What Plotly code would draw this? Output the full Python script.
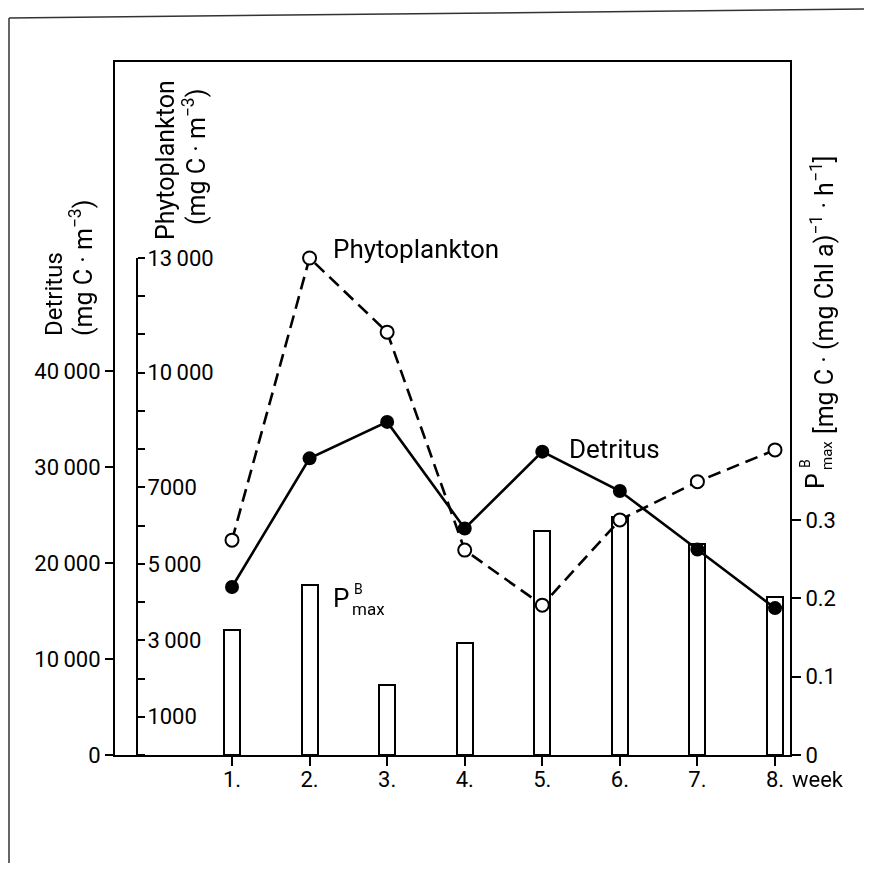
import plotly.graph_objects as go

weeks = [1, 2, 3, 4, 5, 6, 7, 8]
week_labels = ["1.", "2.", "3.", "4.", "5.", "6.", "7.", "8."]
detritus = [17500, 30900, 34700, 23600, 31600, 27500, 21400, 15300]
phyto = [5620, 13000, 11060, 5360, 3920, 6150, 7150, 7980]
pmax = [0.160, 0.217, 0.089, 0.143, 0.286, 0.304, 0.269, 0.202]

det_ticks = [0, 10000, 20000, 30000, 40000]
det_labels = ["0", "10\u2009000", "20\u2009000", "30\u2009000", "40\u2009000"]
phy_ticks = list(range(0, 13001, 1000))
phy_label_map = {1000: "1000", 3000: "3\u2009000", 5000: "5\u2009000",
                 7000: "7000", 10000: "10\u2009000", 13000: "13\u2009000"}
phy_labels = [phy_label_map.get(v, "") for v in phy_ticks]
p_ticks = [0, 0.1, 0.2, 0.3]
p_labels = ["0", "0.1", "0.2", "0.3"]

FONT = "Roboto, DejaVu Sans, sans-serif"
TICKFONT = dict(family=FONT, size=22, color="black")

# page offset (browser body margin)
OFF = 8
W, H = 872 - 2 * OFF, 871 - 2 * OFF
L, T = 115 - OFF, 62 - OFF
R = W - (790 - OFF)
B = H - (755 - OFF)
PW, PH = W - L - R, H - T - B


def px(xp):
    return (xp - OFF - L) / PW


def py(yp):
    return (H - B - (yp - OFF)) / PH


fig = go.Figure()

fig.add_trace(go.Bar(x=weeks, y=pmax, width=0.206,
                     marker=dict(color="white", line=dict(color="black", width=2)),
                     yaxis="y", showlegend=False, hoverinfo="skip"))
fig.add_trace(go.Scatter(x=weeks, y=phyto, mode="lines+markers", yaxis="y2",
                         line=dict(color="black", width=2.6, dash="13px,7px"),
                         marker=dict(symbol="circle", size=13, color="white",
                                     line=dict(color="black", width=2)),
                         cliponaxis=False, showlegend=False))
fig.add_trace(go.Scatter(x=weeks, y=detritus, mode="lines+markers", yaxis="y3",
                         line=dict(color="black", width=2.6),
                         marker=dict(symbol="circle", size=14, color="black"),
                         cliponaxis=False, showlegend=False))
fig.add_trace(go.Scatter(x=weeks, y=phyto, mode="markers", yaxis="y4", opacity=0,
                         showlegend=False, hoverinfo="skip"))

phy_top = 13000 * PH / (755 - 258)
det_top = 40000 * PH / (755 - 371)
p_top = 0.3 * PH / (755 - 520)
step = (775 - 232) / 7
x_lo = 1 - (232 - 115) / step
x_hi = 8 + (790 - 775) / step

fig.update_layout(
    width=W, height=H,
    margin=dict(l=L, r=R, t=T, b=B, pad=0),
    paper_bgcolor="white", plot_bgcolor="rgba(0,0,0,0)",
    font=dict(family=FONT, size=22, color="black"),
    bargap=0,
    xaxis=dict(range=[x_lo, x_hi], tickvals=weeks, ticktext=week_labels,
               showline=True, linecolor="black", linewidth=2, mirror=True,
               ticks="outside", ticklen=9, tickwidth=1.6, tickcolor="black",
               ticklabelstandoff=-5,
               showgrid=False, zeroline=False, tickfont=TICKFONT),
    yaxis=dict(range=[0, p_top], side="right", tickvals=p_ticks, ticktext=p_labels,
               showline=True, linecolor="black", linewidth=2,
               ticks="outside", ticklen=9, tickwidth=1.6, tickcolor="black",
               showgrid=False, zeroline=False, tickfont=TICKFONT),
    yaxis2=dict(range=[0, phy_top], overlaying="y", visible=False,
                showgrid=False, zeroline=False),
    yaxis3=dict(range=[0, det_top], overlaying="y", side="left",
                tickvals=det_ticks, ticktext=det_labels,
                showline=True, linecolor="black", linewidth=2,
                ticks="outside", ticklen=8, tickwidth=1.6, tickcolor="black",
                showgrid=False, zeroline=False, tickfont=TICKFONT),
    yaxis4=dict(range=[0, 13000], domain=[0, (755 - 258) / PH], anchor="free",
                position=px(137), side="right", tickvals=phy_ticks, ticktext=phy_labels,
                showline=True, linecolor="black", linewidth=2,
                ticks="outside", ticklen=7, tickwidth=1.6, tickcolor="black",
                ticklabelstandoff=-2,
                showgrid=False, zeroline=False, tickfont=TICKFONT),
)

ann = []


def A(text, xp, yp, size=22, angle=0, xanchor="center", yanchor="middle"):
    ann.append(dict(text=text, x=px(xp), y=py(yp), xref="paper", yref="paper",
                    showarrow=False, textangle=angle, xanchor=xanchor, yanchor=yanchor,
                    font=dict(family=FONT, size=size, color="black")))


# Axis titles (rotated)
A("Detritus", 54, 294, size=24, angle=-90)
A("(mg C · m<sup>−3</sup>)", 81, 268, size=25, angle=-90)
A("Phytoplankton", 165, 160, size=25, angle=-90)
A("(mg C · m<sup>−3</sup>)", 195, 157, size=25, angle=-90)
# Right axis title pieces
A("P", 815, 481, size=25, angle=-90)
A("B", 805, 464, size=14, angle=-90)
A("max", 827, 456, size=15, angle=-90)
A("[mg C · (mg Chl a)<sup>−1</sup> · h<sup>−1</sup>]", 822, 295, size=25, angle=-90)
# In-plot labels
A("Phytoplankton", 331, 249, size=26, xanchor="left")
A("Detritus", 567, 449, size=26, xanchor="left")
A("P", 331, 598, size=26, xanchor="left")
A("B", 352, 589, size=14, xanchor="left")
A("max", 350, 609, size=17, xanchor="left")
A("week", 790, 779, size=22, xanchor="left")
fig.update_layout(annotations=ann)

border = dict(color="#333", width=1.5)
shapes = [
    dict(type="line", xref="paper", yref="paper", x0=px(9), y0=py(18), x1=px(9), y1=py(871), line=border),
    dict(type="line", xref="paper", yref="paper", x0=px(9), y0=py(18), x1=px(866), y1=py(9), line=border),
    dict(type="line", xref="paper", yref="paper", x0=px(866), y0=py(9), x1=px(866), y1=py(868), line=border),
    dict(type="line", xref="paper", yref="paper", x0=px(406), y0=py(868), x1=px(866), y1=py(868), line=border),
]
fig.update_layout(shapes=shapes)

fig.write_html("out.html")
